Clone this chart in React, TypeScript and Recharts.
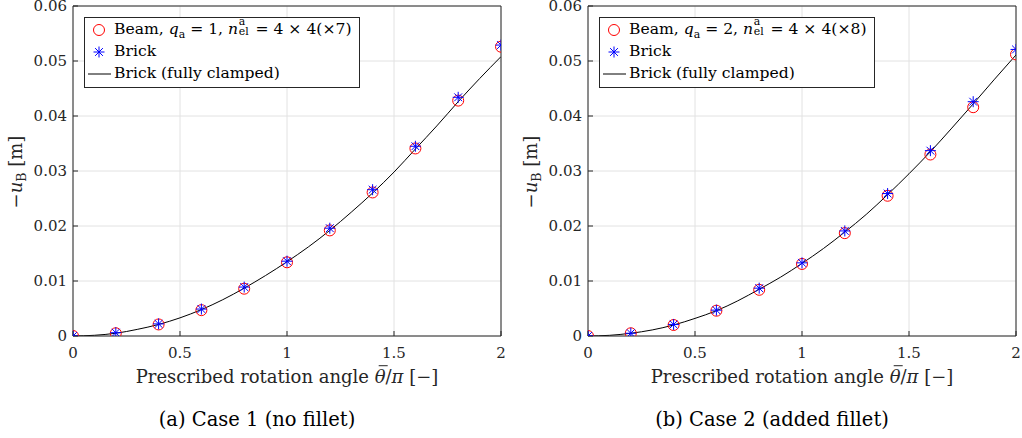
import React from 'react';
import { LineChart, Line, XAxis, YAxis, CartesianGrid } from 'recharts';

// prescribed rotation (theta / pi) where the markers sit
const xMarks = [0, 0.2, 0.4, 0.6, 0.8, 1.0, 1.2, 1.4, 1.6, 1.8, 2.0];
// denser sampling for the fully clamped brick reference curve
const xLine = [0, 0.1, 0.2, 0.3, 0.4, 0.5, 0.6, 0.7, 0.8, 0.9, 1.0, 1.1, 1.2, 1.3, 1.4, 1.5, 1.6, 1.7, 1.8, 1.9, 2.0];

// case 1 (no fillet)
const beamCase1 = [0, 0.0005, 0.0021, 0.0047, 0.0086, 0.0134, 0.0192, 0.0261, 0.0341, 0.0428, 0.0526];
const brickCase1 = [0, 0.0006, 0.0022, 0.0049, 0.0089, 0.0136, 0.0196, 0.0266, 0.0345, 0.0434, 0.0529];
const clampedCase1 = [0, 0.00013, 0.0005, 0.0012, 0.0021, 0.0033, 0.0048, 0.0066, 0.0087, 0.011, 0.0135, 0.0162, 0.0192, 0.0225, 0.026, 0.0298, 0.034, 0.0382, 0.0426, 0.0468, 0.0508];

// case 2 (added fillet)
const beamCase2 = [0, 0.0005, 0.002, 0.0046, 0.0084, 0.0131, 0.0187, 0.0255, 0.033, 0.0416, 0.0512];
const brickCase2 = [0, 0.0005, 0.0021, 0.0047, 0.0087, 0.0133, 0.0191, 0.0259, 0.0337, 0.0426, 0.0521];
const clampedCase2 = [0, 0.00012, 0.0005, 0.0011, 0.002, 0.0032, 0.0046, 0.0064, 0.0085, 0.0107, 0.0132, 0.0159, 0.0189, 0.0221, 0.0257, 0.0295, 0.0335, 0.0378, 0.0422, 0.0467, 0.0511];

const xTicks = [0, 0.5, 1, 1.5, 2];
const yTicks = [0, 0.01, 0.02, 0.03, 0.04, 0.05, 0.06];
const captions = ['(a) Case 1 (no fillet)', '(b) Case 2 (added fillet)'];

const FONT = '"DejaVu Serif", "Liberation Serif", serif';
const INK = '#262626';
const W = 511;
const H = 438;
const PLOT_W = 428;
const PLOT_TOP = 6;
const PLOT_BOTTOM = 336;

const RedCircle = (props: any) => {
  const { cx, cy } = props;
  if (cx == null || cy == null) return null;
  return <circle key={props.key} cx={cx} cy={cy} r={5.5} fill="none" stroke="#ff0000" strokeWidth={1} />;
};

const BlueStar = (props: any) => {
  const { cx, cy } = props;
  if (cx == null || cy == null) return null;
  const s = 5.5;
  const d = 3.9;
  return (
    <g key={props.key} stroke="#0000ff" strokeWidth={1}>
      <line x1={cx - s} y1={cy} x2={cx + s} y2={cy} />
      <line x1={cx} y1={cy - s} x2={cx} y2={cy + s} />
      <line x1={cx - d} y1={cy - d} x2={cx + d} y2={cy + d} />
      <line x1={cx - d} y1={cy + d} x2={cx + d} y2={cy - d} />
    </g>
  );
};

const Sub = ({ children }: { children: React.ReactNode }) => (
  <span style={{ fontSize: '0.7em', position: 'relative', top: '0.35em' }}>{children}</span>
);

const SupSub = ({ sup, sub }: { sup: string; sub: string }) => (
  <span style={{ display: 'inline-block', position: 'relative', width: '0.75em', height: '0.8em', marginLeft: '0.05em' }}>
    <span style={{ position: 'absolute', left: 0, top: '-0.5em', fontSize: '0.7em', lineHeight: 1 }}>{sup}</span>
    <span style={{ position: 'absolute', left: 0, top: '0.42em', fontSize: '0.7em', lineHeight: 1 }}>{sub}</span>
  </span>
);

const Bar = ({ children }: { children: React.ReactNode }) => (
  <span style={{ position: 'relative', display: 'inline-block', lineHeight: 1.2 }}>
    {children}
    <span style={{ position: 'absolute', left: '0.22em', width: '0.5em', top: '-0.04em', height: 1, background: INK }} />
  </span>
);

interface PanelProps {
  left: number;
  plotLeft: number;
  beam: number[];
  brick: number[];
  clamped: number[];
  qa: number;
  copies: number;
  caption: string;
}

const Panel = ({ left, plotLeft, beam, brick, clamped, qa, copies, caption }: PanelProps) => {
  const beamRows = xMarks.map((x, i) => ({ x, v: beam[i] }));
  const brickRows = xMarks.map((x, i) => ({ x, v: brick[i] }));
  const lineRows = xLine.map((x, i) => ({ x, v: clamped[i] }));
  const tickStyle = { fontSize: 15, fill: INK, fontFamily: FONT };
  const rowH = 22;

  return (
    <div style={{ position: 'absolute', left, top: 0, width: W, height: H }}>
      <LineChart
        width={W}
        height={H}
        margin={{ top: PLOT_TOP - 1, right: W - plotLeft - PLOT_W - 1, bottom: H - PLOT_BOTTOM - 1, left: plotLeft - 1 }}
      >
        <CartesianGrid stroke="#e2e2e2" strokeWidth={1} />
        <XAxis
          dataKey="x"
          type="number"
          domain={[0, 2]}
          ticks={xTicks}
          interval={0}
          height={1}
          tickSize={-5}
          tickMargin={16}
          tick={tickStyle}
          stroke={INK}
          tickFormatter={(v: number) => String(v)}
          allowDataOverflow
        />
        <XAxis xAxisId="top" orientation="top" type="number" domain={[0, 2]} ticks={xTicks} interval={0}
          height={1} tickSize={-5} tick={false} stroke={INK} allowDataOverflow />
        <YAxis
          type="number"
          domain={[0, 0.06]}
          ticks={yTicks}
          interval={0}
          width={1}
          tickSize={-5}
          tickMargin={11}
          tick={tickStyle}
          stroke={INK}
          tickFormatter={(v: number) => (v === 0 ? '0' : v.toFixed(2))}
          allowDataOverflow
        />
        <YAxis yAxisId="right" orientation="right" type="number" domain={[0, 0.06]} ticks={yTicks} interval={0}
          width={1} tickSize={-5} tick={false} stroke={INK} allowDataOverflow />
        <Line data={beamRows} dataKey="v" stroke="none" dot={RedCircle} activeDot={false} isAnimationActive={false} />
        <Line data={brickRows} dataKey="v" stroke="none" dot={BlueStar} activeDot={false} isAnimationActive={false} />
        <Line data={lineRows} dataKey="v" type="monotone" stroke="#000" strokeWidth={1} dot={false} activeDot={false} isAnimationActive={false} />
      </LineChart>

      {/* legend */}
      <div style={{ position: 'absolute', left: plotLeft + 11, top: 17, width: 276, height: 71, boxSizing: 'border-box',
        border: `1px solid ${INK}`, background: '#fff', fontSize: 15.6, color: '#000' }}>
        {[0, 1, 2].map((r) => (
          <div key={r} style={{ position: 'absolute', left: 0, top: 1 + r * rowH, height: rowH, width: '100%', display: 'flex', alignItems: 'center' }}>
            <svg width={29} height={rowH} style={{ flex: 'none' }}>
              {r === 0 && <RedCircle cx={14} cy={rowH / 2} />}
              {r === 1 && <BlueStar cx={14} cy={rowH / 2} />}
              {r === 2 && <line x1={3} x2={26} y1={rowH / 2} y2={rowH / 2} stroke="#000" strokeWidth={1} />}
            </svg>
            <span style={{ whiteSpace: 'nowrap', lineHeight: 1 }}>
              {r === 0 && (
                <>
                  Beam, <i>q</i><Sub>a</Sub> = {qa}, <i>n</i><SupSub sup="a" sub="el" /> = 4 × 4(×{copies})
                </>
              )}
              {r === 1 && 'Brick'}
              {r === 2 && 'Brick (fully clamped)'}
            </span>
          </div>
        ))}
      </div>

      {/* y label */}
      <div style={{ position: 'absolute', left: plotLeft - 57, top: 172, transform: 'translate(-50%, -50%) rotate(-90deg)',
        fontSize: 18, whiteSpace: 'nowrap', color: INK, lineHeight: 1 }}>
        −<i>u</i><Sub>B</Sub> [m]
      </div>

      {/* x label */}
      <div style={{ position: 'absolute', left: plotLeft + PLOT_W / 2, top: 377, transform: 'translate(-50%, -50%)',
        fontSize: 18, whiteSpace: 'nowrap', color: INK, lineHeight: 1 }}>
        Prescribed rotation angle <Bar><i>θ</i></Bar>/<i>π</i> [−]
      </div>

      {/* sub-caption */}
      <div style={{ position: 'absolute', left: plotLeft + 184, top: 420, transform: 'translate(-50%, -50%)',
        fontSize: 19.5, whiteSpace: 'nowrap', color: '#000', lineHeight: 1 }}>
        {caption}
      </div>
    </div>
  );
};

export default function App() {
  return (
    <div style={{ position: 'absolute', left: 0, top: 0, width: 1022, height: 438, background: '#fff', overflow: 'hidden', fontFamily: FONT }}>
      <Panel left={0} plotLeft={73} beam={beamCase1} brick={brickCase1} clamped={clampedCase1} qa={1} copies={7} caption={captions[0]} />
      <Panel left={511} plotLeft={77} beam={beamCase2} brick={brickCase2} clamped={clampedCase2} qa={2} copies={8} caption={captions[1]} />
    </div>
  );
}
